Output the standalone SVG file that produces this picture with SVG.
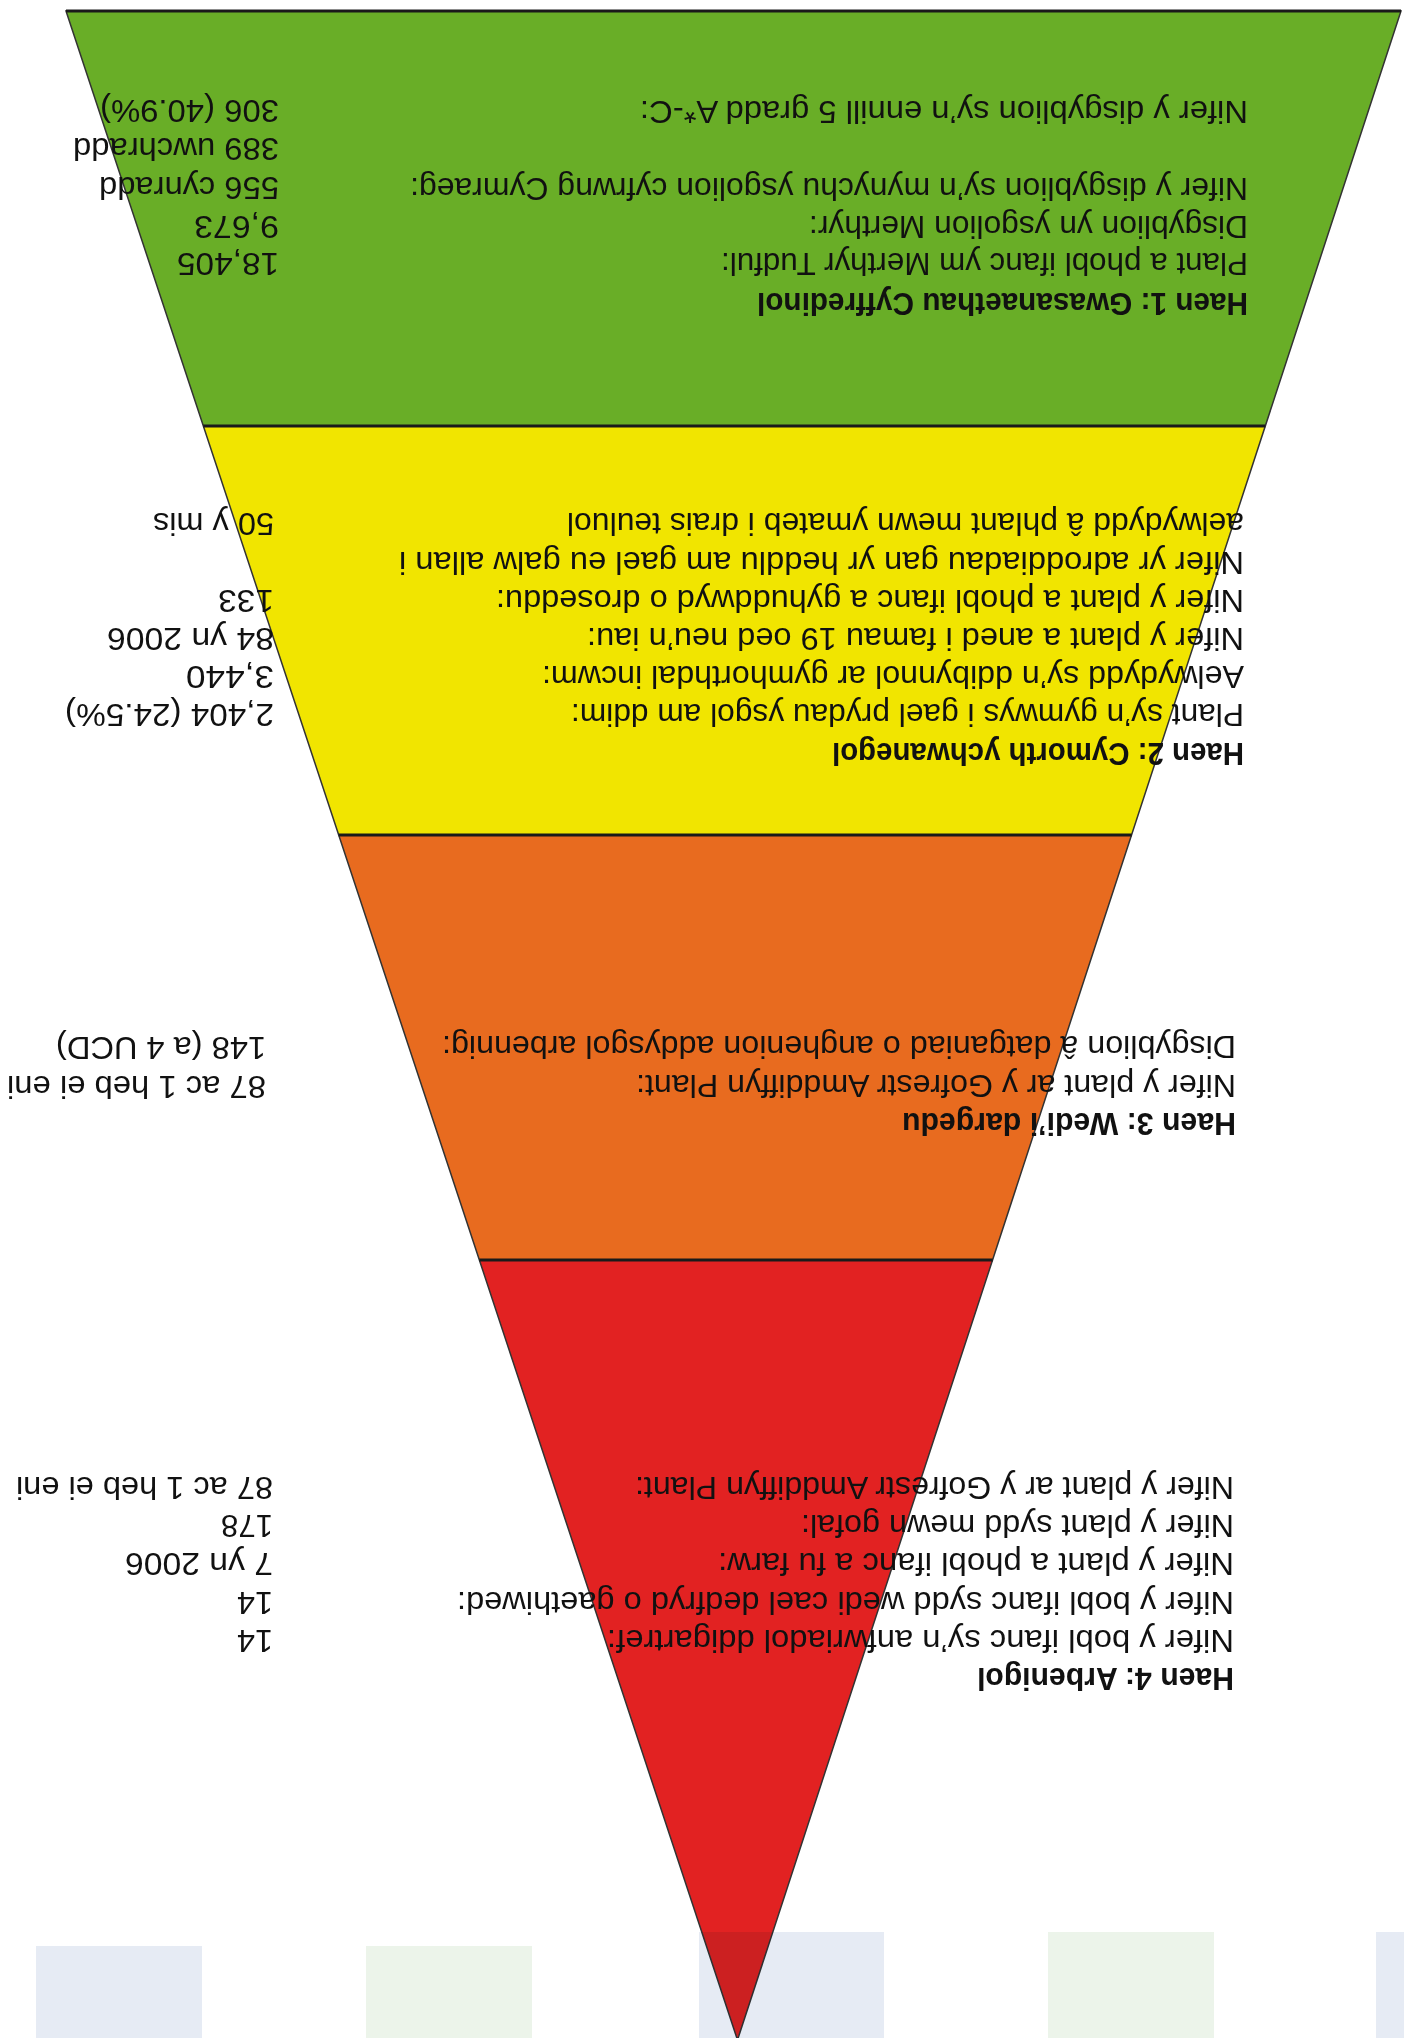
<svg xmlns="http://www.w3.org/2000/svg" width="1404" height="2038" viewBox="0 0 1404 2038">
<style>
.t{font-family:"Liberation Sans",Arial,sans-serif;font-size:31px;fill:#111}
.h{font-weight:bold}
.sep{stroke:#1a1a1a;stroke-width:3}
.bg{mix-blend-mode:multiply}
</style>
<rect width="1404" height="2038" fill="#fff"/>
<g id="shapes">
<polygon id="band1" points="66,11 1401,11 1265.3,426 203.3,426" fill="#69ae27"/>
<polygon id="band2" points="203.3,426 1265.3,426 1131.6,835 338.7,835" fill="#f1e500"/>
<polygon id="band3" points="338.7,835 1131.6,835 992.6,1260 479.3,1260" fill="#e86b1f"/>
<polygon id="band4" points="479.3,1260 992.6,1260 737.5,2040" fill="#e22222"/>
<polygon points="66,11 1401,11 737.5,2040" fill="none" stroke="#333" stroke-width="1.5"/>
<line class="sep" x1="66" y1="11" x2="1401" y2="11"/>
<line class="sep" x1="203.3" y1="426" x2="1265.3" y2="426"/>
<line class="sep" x1="338.7" y1="835" x2="1131.6" y2="835"/>
<line class="sep" x1="479.3" y1="1260" x2="992.6" y2="1260"/>
</g>
<g id="tabs">
<rect class="bg" x="36" y="1946" width="166" height="92" fill="#e6ebf4"/>
<rect class="bg" x="366" y="1946" width="166" height="92" fill="#ecf4ea"/>
<rect class="bg" x="699" y="1932" width="185" height="106" fill="#e6ebf4"/>
<rect class="bg" x="1048" y="1932" width="166" height="106" fill="#ecf4ea"/>
<rect class="bg" x="1376" y="1932" width="28" height="106" fill="#e6ebf4"/>
</g>
<g id="texts" transform="rotate(180 702 1019)">
<g id="haen1">
<text class="t h" x="156" y="1745" textLength="491" lengthAdjust="spacingAndGlyphs">Haen 1: Gwasanaethau Cyffredinol</text>
<text class="t" x="156" y="1785" textLength="527" lengthAdjust="spacingAndGlyphs">Plant a phobl ifanc ym Merthyr Tudful:</text>
<text class="t" x="156" y="1822" textLength="439" lengthAdjust="spacingAndGlyphs">Disgyblion yn ysgolion Merthyr:</text>
<text class="t" x="156" y="1860" textLength="838" lengthAdjust="spacingAndGlyphs">Nifer y disgyblion sy’n mynychu ysgolion cyfrwng Cymraeg:</text>
<text class="t" x="156" y="1937" textLength="608" lengthAdjust="spacingAndGlyphs">Nifer y disgyblion sy’n ennill 5 gradd A*-C:</text>
<text class="t" x="1125" y="1785" textLength="102" lengthAdjust="spacingAndGlyphs">18,405</text>
<text class="t" x="1125" y="1822" textLength="85" lengthAdjust="spacingAndGlyphs">9,673</text>
<text class="t" x="1125" y="1861" textLength="180" lengthAdjust="spacingAndGlyphs">556 cynradd</text>
<text class="t" x="1125" y="1900" textLength="206" lengthAdjust="spacingAndGlyphs">389 uwchradd</text>
<text class="t" x="1125" y="1938" textLength="179" lengthAdjust="spacingAndGlyphs">306 (40.9%)</text>
</g>
<g id="haen2">
<text class="t h" x="160" y="1295" textLength="412" lengthAdjust="spacingAndGlyphs">Haen 2: Cymorth ychwanegol</text>
<text class="t" x="160" y="1334" textLength="673" lengthAdjust="spacingAndGlyphs">Plant sy’n gymwys i gael prydau ysgol am ddim:</text>
<text class="t" x="160" y="1372" textLength="702" lengthAdjust="spacingAndGlyphs">Aelwydydd sy’n ddibynnol ar gymhorthdal incwm:</text>
<text class="t" x="160" y="1410" textLength="657" lengthAdjust="spacingAndGlyphs">Nifer y plant a aned i famau 19 oed neu’n iau:</text>
<text class="t" x="160" y="1448" textLength="748" lengthAdjust="spacingAndGlyphs">Nifer y plant a phobl ifanc a gyhuddwyd o droseddu:</text>
<text class="t" x="160" y="1486" textLength="845" lengthAdjust="spacingAndGlyphs">Nifer yr adroddiadau gan yr heddlu am gael eu galw allan i</text>
<text class="t" x="160" y="1525" textLength="677" lengthAdjust="spacingAndGlyphs">aelwydydd â phlant mewn ymateb i drais teuluol</text>
<text class="t" x="1130" y="1334" textLength="209" lengthAdjust="spacingAndGlyphs">2,404 (24.5%)</text>
<text class="t" x="1130" y="1372" textLength="88" lengthAdjust="spacingAndGlyphs">3,440</text>
<text class="t" x="1130" y="1410" textLength="167" lengthAdjust="spacingAndGlyphs">84 yn 2006</text>
<text class="t" x="1130" y="1448" textLength="56" lengthAdjust="spacingAndGlyphs">133</text>
<text class="t" x="1130" y="1525" textLength="121" lengthAdjust="spacingAndGlyphs">50 y mis</text>
</g>
<g id="haen3">
<text class="t h" x="168" y="925" textLength="334" lengthAdjust="spacingAndGlyphs">Haen 3: Wedi’i dargedu</text>
<text class="t" x="168" y="963" textLength="600" lengthAdjust="spacingAndGlyphs">Nifer y plant ar y Gofrestr Amddiffyn Plant:</text>
<text class="t" x="168" y="1002" textLength="794" lengthAdjust="spacingAndGlyphs">Disgyblion â datganiad o anghenion addysgol arbennig:</text>
<text class="t" x="1138" y="962" textLength="259" lengthAdjust="spacingAndGlyphs">87 ac 1 heb ei eni</text>
<text class="t" x="1138" y="1001" textLength="210" lengthAdjust="spacingAndGlyphs">148 (a 4 UCD)</text>
</g>
<g id="haen4">
<text class="t h" x="170" y="370" textLength="257" lengthAdjust="spacingAndGlyphs">Haen 4: Arbenigol</text>
<text class="t" x="170" y="408" textLength="627" lengthAdjust="spacingAndGlyphs">Nifer y bobl ifanc sy’n anfwriadol ddigartref:</text>
<text class="t" x="170" y="446" textLength="777" lengthAdjust="spacingAndGlyphs">Nifer y bobl ifanc sydd wedi cael dedfryd o gaethiwed:</text>
<text class="t" x="170" y="485" textLength="516" lengthAdjust="spacingAndGlyphs">Nifer y plant a phobl ifanc a fu farw:</text>
<text class="t" x="170" y="523" textLength="433" lengthAdjust="spacingAndGlyphs">Nifer y plant sydd mewn gofal:</text>
<text class="t" x="170" y="561" textLength="599" lengthAdjust="spacingAndGlyphs">Nifer y plant ar y Gofrestr Amddiffyn Plant:</text>
<text class="t" x="1131" y="408" textLength="36" lengthAdjust="spacingAndGlyphs">14</text>
<text class="t" x="1131" y="446" textLength="36" lengthAdjust="spacingAndGlyphs">14</text>
<text class="t" x="1131" y="485" textLength="148" lengthAdjust="spacingAndGlyphs">7 yn 2006</text>
<text class="t" x="1131" y="523" textLength="52" lengthAdjust="spacingAndGlyphs">178</text>
<text class="t" x="1131" y="561" textLength="257" lengthAdjust="spacingAndGlyphs">87 ac 1 heb ei eni</text>
</g>
</g>
</svg>
